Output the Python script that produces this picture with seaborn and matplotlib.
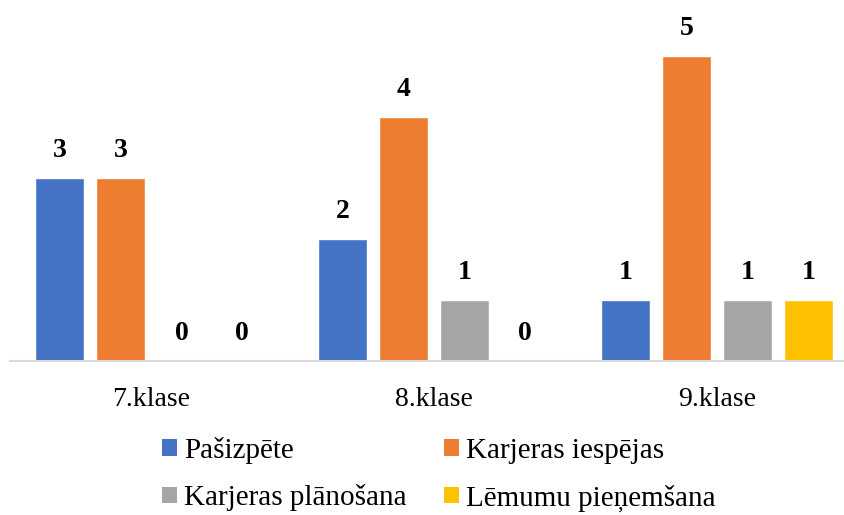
import matplotlib
matplotlib.use("Agg")
import matplotlib.pyplot as plt
import seaborn as sns
import pandas as pd
from matplotlib.patches import Patch

categories = ["7.klase", "8.klase", "9.klase"]
series_names = ["Pašizpēte", "Karjeras iespējas", "Karjeras plānošana", "Lēmumu pieņemšana"]
pasizpete = [3, 2, 1]
karjeras_iespejas = [3, 4, 5]
karjeras_planosana = [0, 1, 1]
lemumu_pienemsana = [0, 0, 1]
colors = ["#4472C4", "#ED7D31", "#A5A5A5", "#FFC000"]

series_values = [pasizpete, karjeras_iespejas, karjeras_planosana, lemumu_pienemsana]
rows = []
for name, vals in zip(series_names, series_values):
    for cat, v in zip(categories, vals):
        rows.append({"klase": cat, "series": name, "value": v})
df = pd.DataFrame(rows)

sns.set_theme(style="white")
plt.rcParams["font.family"] = ["Liberation Serif", "DejaVu Serif"]
plt.rcParams["text.color"] = "black"

fig = plt.figure(figsize=(8.45, 5.15), dpi=100)
ax = fig.add_axes([9.5 / 845, (515 - 361) / 515, 849 / 845, 351 / 515])

sns.barplot(data=df, x="klase", y="value", hue="series", order=categories,
            hue_order=series_names, palette=colors, width=0.86, gap=0.2,
            saturation=1, ax=ax, legend=False)

for cont in ax.containers:
    ax.bar_label(cont, labels=[f"{int(b.get_height())}" for b in cont],
                 padding=11, fontsize=20, fontweight="bold", color="black")

ax.set_xlim(-0.5, 2.5)
ax.set_ylim(0, 351 / 61)
ax.set_xlabel("")
ax.set_ylabel("")
ax.set_yticks([])
for s in ["top", "right", "left"]:
    ax.spines[s].set_visible(False)
ax.spines["bottom"].set_color("#D9D9D9")
ax.spines["bottom"].set_linewidth(1.5)
ax.tick_params(axis="x", length=0, pad=19, labelsize=20, labelcolor="black")

order = [0, 2, 1, 3]
handles = [Patch(facecolor=colors[i], edgecolor="none") for i in order]
labels = [series_names[i] for i in order]
fig.legend(handles, labels, ncol=2, loc="upper left",
           bbox_to_anchor=(162 / 845, 1 - 437 / 515), frameon=False,
           fontsize=21, handlelength=0.5, handleheight=0.5,
           handletextpad=0.25, columnspacing=1.3, labelspacing=0.7,
           borderpad=0, borderaxespad=0)

fig.savefig("out.png", dpi=100)
